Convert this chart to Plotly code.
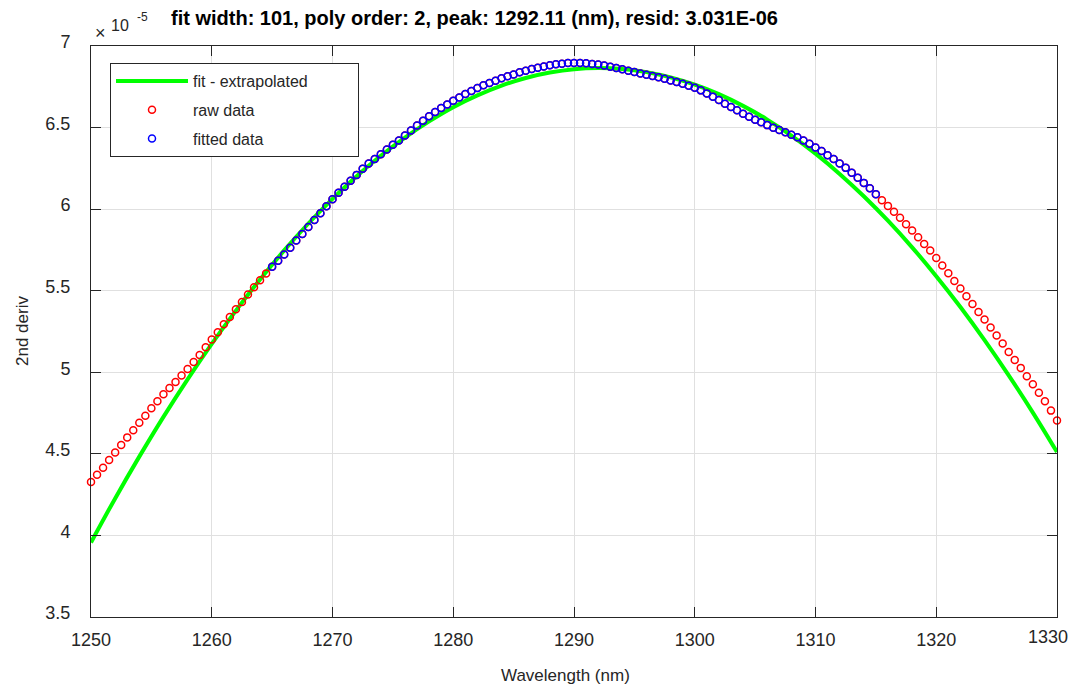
import numpy as np
import plotly.graph_objects as go

# ---- data ----
wl_start = 1250.0
wl_step = 0.5
raw_deriv = [
    # 1250 - 1264.5
    4.327, 4.372, 4.415, 4.462, 4.509, 4.554, 4.601, 4.644, 4.691, 4.734,
    4.779, 4.822, 4.865, 4.904, 4.941, 4.980, 5.020, 5.063, 5.106, 5.153,
    5.201, 5.245, 5.294, 5.339, 5.387, 5.431, 5.477, 5.521, 5.564, 5.605,
    # 1265 - 1276.5
    5.647, 5.683, 5.722, 5.763, 5.808, 5.848, 5.891, 5.933, 5.975, 6.018,
    6.061, 6.100, 6.137, 6.174, 6.210, 6.247, 6.280, 6.307, 6.337, 6.366,
    6.394, 6.421, 6.452, 6.482,
    # 1277 - 1289
    6.513, 6.542, 6.569, 6.595, 6.620, 6.642, 6.664, 6.685, 6.706, 6.724,
    6.742, 6.759, 6.773, 6.787, 6.802, 6.814, 6.826, 6.839, 6.848, 6.859,
    6.867, 6.875, 6.882, 6.888, 6.891,
    # 1289.5 - 1301.5
    6.896, 6.896, 6.896, 6.894, 6.890, 6.886, 6.880, 6.873, 6.865, 6.857,
    6.848, 6.840, 6.832, 6.824, 6.816, 6.808, 6.799, 6.789, 6.779, 6.769,
    6.756, 6.744, 6.728, 6.709, 6.689,
    # 1302 - 1315
    6.669, 6.646, 6.626, 6.606, 6.585, 6.566, 6.548, 6.532, 6.515, 6.499,
    6.485, 6.471, 6.456, 6.440, 6.421, 6.401, 6.378, 6.356, 6.331, 6.307,
    6.280, 6.253, 6.223, 6.192, 6.161, 6.128, 6.092,
    # 1315.5 - 1330
    6.055, 6.020, 5.984, 5.947, 5.908, 5.869, 5.828, 5.787, 5.746, 5.701,
    5.654, 5.607, 5.560, 5.513, 5.466, 5.419, 5.370, 5.323, 5.274, 5.225,
    5.176, 5.125, 5.076, 5.027, 4.976, 4.927, 4.874, 4.823, 4.765, 4.705,
]
fit_start_index = 30   # 1265 nm
fit_width = 101        # points used in the fit

fit_wl = [1250, 1252, 1254, 1256, 1258, 1260, 1262, 1264, 1266, 1268,
          1270, 1272, 1274, 1276, 1278, 1280, 1282, 1284, 1286, 1288,
          1290, 1292, 1294, 1296, 1298, 1300, 1302, 1304, 1306, 1308,
          1310, 1312, 1314, 1316, 1318, 1320, 1322, 1324, 1326, 1328, 1330]
fit_deriv = [3.957, 4.227, 4.483, 4.727, 4.957, 5.174, 5.378, 5.569, 5.747, 5.912,
             6.063, 6.202, 6.327, 6.439, 6.538, 6.625, 6.697, 6.757, 6.804, 6.837,
             6.858, 6.865, 6.859, 6.840, 6.808, 6.763, 6.705, 6.633, 6.549, 6.451,
             6.340, 6.216, 6.079, 5.929, 5.766, 5.589, 5.400, 5.197, 4.981, 4.753,
             4.511]

x_ticks = [1250, 1260, 1270, 1280, 1290, 1300, 1310, 1320, 1330]
x_tick_labels = ["1250", "1260", "1270", "1280", "1290", "1300", "1310", "1320", "1330"]
y_ticks = [3.5, 4, 4.5, 5, 5.5, 6, 6.5, 7]
y_tick_labels = ["3.5", "4", "4.5", "5", "5.5", "6", "6.5", "7"]

title_text = "fit width: 101, poly order: 2, peak: 1292.11 (nm), resid: 3.031E-06"

raw_wl = [wl_start + i * wl_step for i in range(len(raw_deriv))]
fitted_wl = raw_wl[fit_start_index:fit_start_index + fit_width]
fitted_deriv = raw_deriv[fit_start_index:fit_start_index + fit_width]

# ---- figure ----
FONT = "Liberation Sans, Arial, Helvetica, sans-serif"
AX = "#262626"
GRID = "#e0e0e0"

L, R, T, B = 91, 14, 46, 69
W, H = 1071, 686
pw, ph = W - L - R, H - T - B

def px(xp):
    return (xp - L) / pw

def py(yp):
    return (H - B - yp) / ph

PAD = "\u00a0" * 10

fig = go.Figure()
fig.add_trace(go.Scatter(
    x=fit_wl, y=fit_deriv, mode="lines", name="fit - extrapolated" + PAD,
    line=dict(color="#00ff00", width=4, shape="spline"),
    legendgroup="a", cliponaxis=False))
fig.add_trace(go.Scatter(
    x=raw_wl, y=raw_deriv, mode="markers", name="raw data",
    marker=dict(symbol="circle-open", size=7, color="#ff0000",
                line=dict(width=1.5, color="#ff0000")),
    legendgroup="b", cliponaxis=False))
fig.add_trace(go.Scatter(
    x=fitted_wl, y=fitted_deriv, mode="markers", name="fitted data",
    marker=dict(symbol="circle-open", size=7, color="#0000ff",
                line=dict(width=1.5, color="#0000ff")),
    legendgroup="c", cliponaxis=False))

axis_common = dict(
    showline=True, linecolor=AX, linewidth=1, mirror="ticks",
    ticks="inside", ticklen=10, tickcolor=AX, tickwidth=1,
    showgrid=True, gridcolor=GRID, gridwidth=1, zeroline=False,
    tickfont=dict(family=FONT, size=18, color=AX),
    ticklabeloverflow="allow", automargin=False,
)

# the last x tick label sits at the right page edge: draw it as an annotation
# nudged inward so it is not clipped
x_tick_text_axis = x_tick_labels[:-1] + [""]

annotations = [
    dict(text="<b>" + title_text + "</b>", xref="paper", yref="paper",
         x=px(474), y=py(18), xanchor="center", yanchor="middle",
         showarrow=False, font=dict(family=FONT, size=20, color="#000000")),
    dict(text="Wavelength (nm)", xref="paper", yref="paper",
         x=px(565), y=py(675), xanchor="center", yanchor="middle",
         showarrow=False, font=dict(family=FONT, size=17, color=AX)),
    dict(text="2nd deriv", xref="paper", yref="paper",
         x=px(22), y=py(331), xanchor="center", yanchor="middle",
         textangle=-90, showarrow=False,
         font=dict(family=FONT, size=17, color=AX)),
    dict(text="\u00d7", xref="paper", yref="paper",
         x=px(100), y=py(33), xanchor="center", yanchor="middle",
         showarrow=False, font=dict(family=FONT, size=18, color=AX)),
    dict(text="10", xref="paper", yref="paper",
         x=px(120), y=py(26), xanchor="center", yanchor="middle",
         showarrow=False, font=dict(family=FONT, size=16, color=AX)),
    dict(text="-5", xref="paper", yref="paper",
         x=px(142), y=py(17), xanchor="center", yanchor="middle",
         showarrow=False, font=dict(family=FONT, size=12, color=AX)),
    dict(text=x_tick_labels[-1], xref="x", yref="paper",
         x=x_ticks[-1], y=py(637), xanchor="right", yanchor="middle",
         xshift=13, showarrow=False,
         font=dict(family=FONT, size=18, color=AX)),
]

fig.update_layout(
    width=W, height=H,
    margin=dict(l=L, r=R, t=T, b=B, autoexpand=False),
    paper_bgcolor="white", plot_bgcolor="white",
    font=dict(family=FONT, color=AX),
    showlegend=True,
    legend=dict(
        x=px(110), y=py(63), xanchor="left", yanchor="top",
        bgcolor="white", bordercolor=AX, borderwidth=1,
        font=dict(family=FONT, size=16, color=AX),
        itemwidth=72, tracegroupgap=5,
    ),
    xaxis=dict(range=[1250, 1330], tickvals=x_ticks,
               ticktext=x_tick_text_axis, ticklabelstandoff=6,
               **axis_common),
    yaxis=dict(range=[3.5, 7], tickvals=y_ticks, ticktext=y_tick_labels,
               ticklabelstandoff=16, ticklabelshift=-4, **axis_common),
    annotations=annotations,
)

fig.write_html(
    "out.html",
    config={"displayModeBar": False},
    post_script="document.body.style.margin='0';document.body.style.overflow='hidden';",
)
